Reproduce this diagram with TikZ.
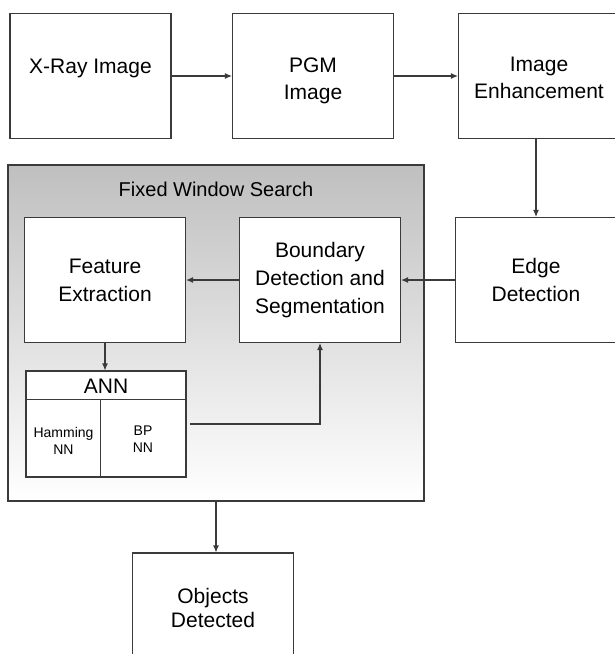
\documentclass[tikz,border=0pt]{standalone}
\usepackage{fontspec}
\setmainfont{Liberation Sans}
\usetikzlibrary{arrows.meta}
\definecolor{linec}{HTML}{3A3A3A}
\tikzset{
  box/.style={draw=linec, line width=1.1pt, fill=white, align=center,
    minimum width=161pt, minimum height=125pt, inner sep=2pt,
    font=\fontsize{21}{28}\selectfont},
  txt/.style={align=center, inner sep=0pt, font=\fontsize{21}{27}\selectfont},
  arr/.style={draw=linec, line width=1.1pt, -{Latex[length=7pt,width=6pt]}},
  plain/.style={draw=linec, line width=1.1pt},
  small/.style={align=center, font=\fontsize{14}{17}\selectfont},
}
\begin{document}
\begin{tikzpicture}[x=1pt,y=-1pt]
\useasboundingbox (0,0) rectangle (615,654);
\clip (0,0) rectangle (615,654);
% outer group
\node[draw=linec, line width=1.1pt, top color=gray!50, bottom color=white,
      minimum width=416pt, minimum height=336pt, inner sep=0pt] (fws) at (216,333) {};
\node[font=\fontsize{20}{24}\selectfont] (fwst) at (216,189) {Fixed Window Search};
% top row
\node[box] (xray) at (90.5,76) {};
\node[txt] (xrayt) at (90.5,68) {X-Ray Image};
\node[box] (pgm) at (313,76) {};
\node[txt] (pgmt) at (313,80.5) {PGM\\Image};
\node[box] (enh) at (539,76) {};
\node[txt] (enht) at (539,77.5) {Image\\Enhancement};
% middle row
\node[box] (edge) at (536,280) {Edge\\Detection};
\node[box] (bound) at (320,280) {Boundary\\Detection and\\Segmentation};
\node[box] (feat) at (105,280) {Feature\\Extraction};
% ANN
\node[draw=linec, line width=1.1pt, fill=white, minimum width=160pt,
      minimum height=106pt, inner sep=0pt] (ann) at (106,424) {};
\draw[plain] ([yshift=-29pt]ann.north west) -- ([yshift=-29pt]ann.north east);
\draw[plain] ([xshift=75pt]ann.south west) -- ([xshift=75pt,yshift=-29pt]ann.north west);
\node[font=\fontsize{21}{24}\selectfont] (annt) at (106,386) {ANN};
\node[small] (ham) at (63.5,441) {Hamming\\NN};
\node[small] (bp) at (143,439) {BP\\NN};
% objects
\node[box, minimum height=110pt, font=\fontsize{21}{24}\selectfont] (obj) at (213,608) {Objects\\Detected};
% connectors
\draw[arr] (xray.east) -- (pgm.west);
\draw[arr] (pgm.east) -- (enh.west);
\draw[arr] (enh.south -| edge.north) -- (edge.north);
\draw[arr] (edge.west) -- (bound.east);
\draw[arr] (bound.west) -- (feat.east);
\draw[arr] (feat.south) -- (feat.south |- ann.north);
\draw[arr] ([xshift=3pt]ann.east) -| (bound.south);
\draw[arr] (fws.south) -- (fws.south |- obj.north);
\end{tikzpicture}
\end{document}
